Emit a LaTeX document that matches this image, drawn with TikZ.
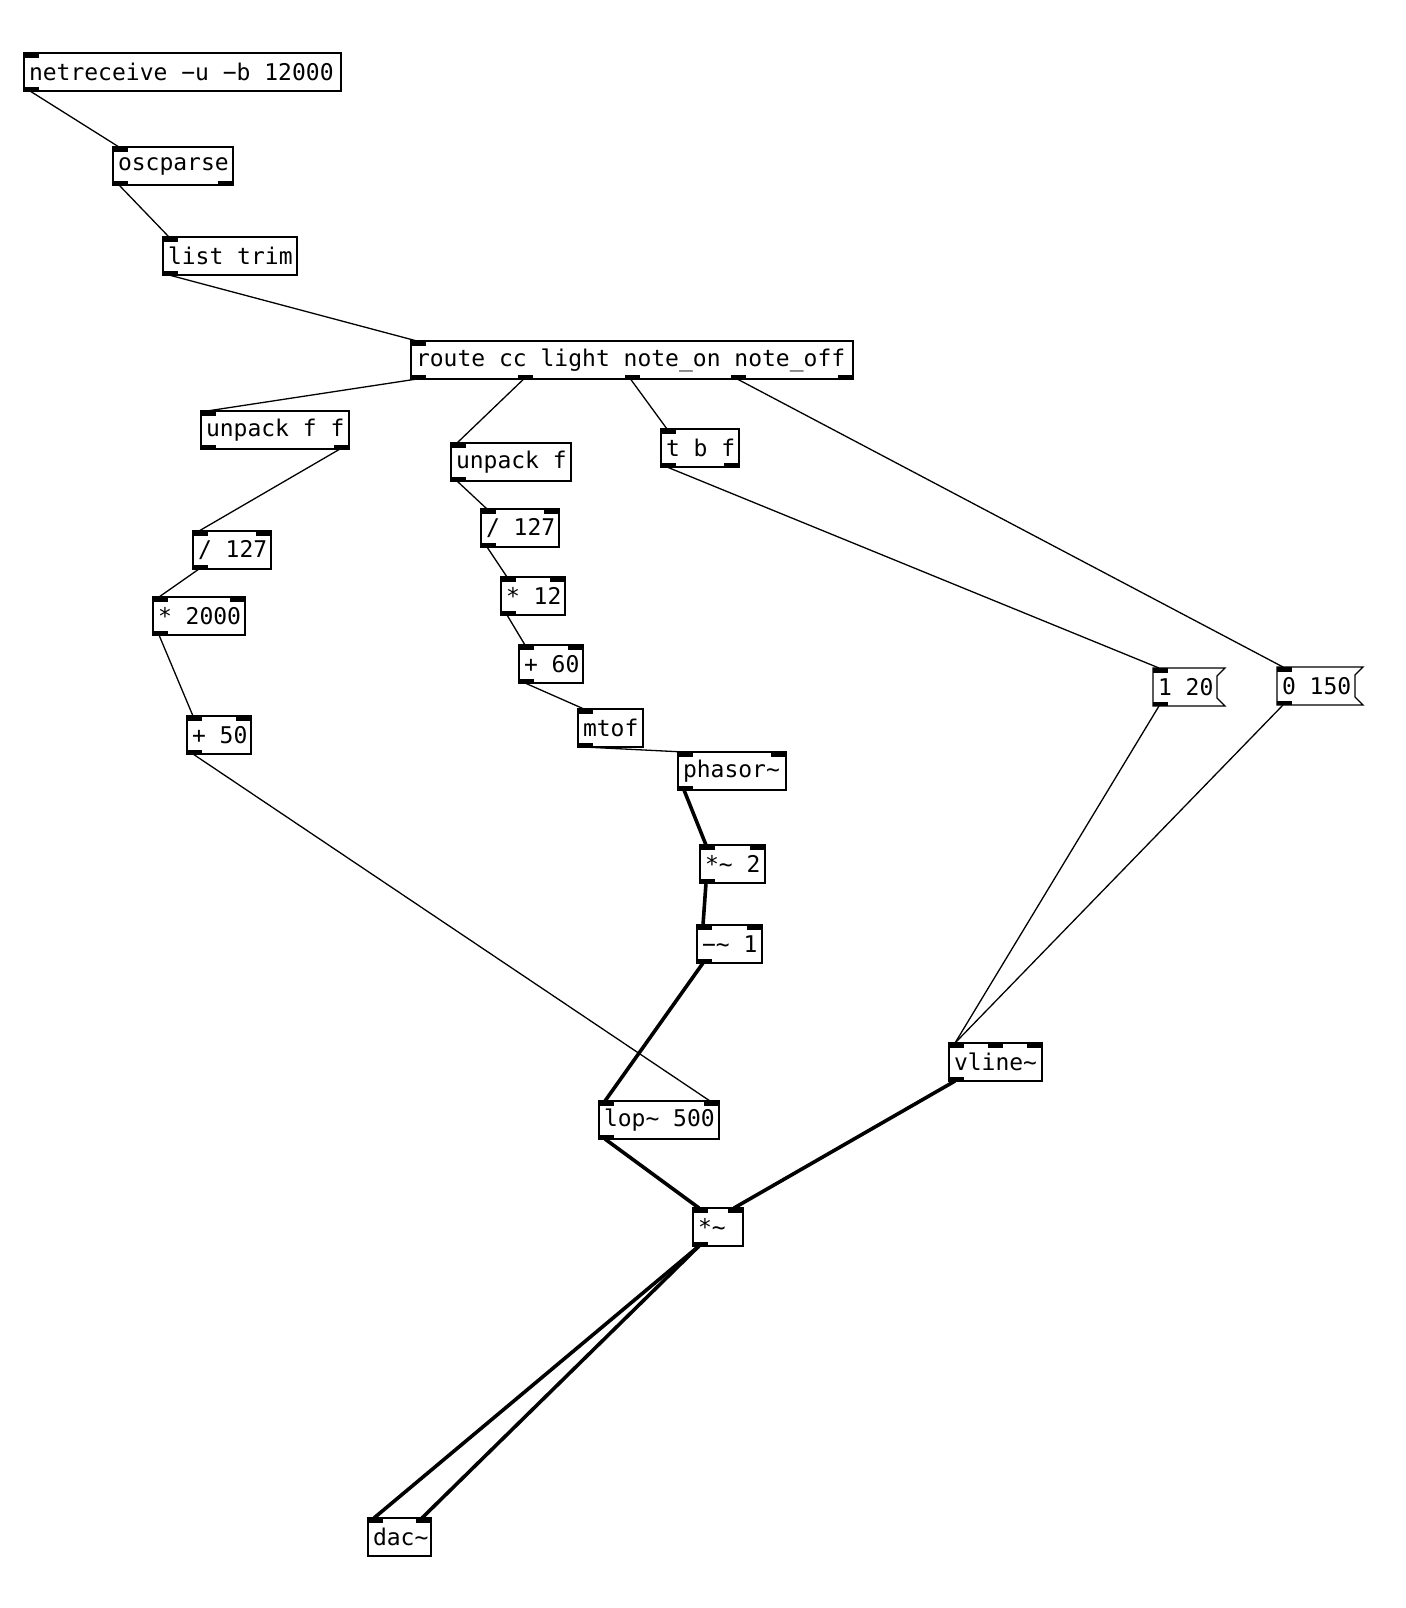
\documentclass[tikz,border=0pt]{standalone}
\usepackage{fontspec}
\newfontfamily\pdfont{DejaVu Sans Mono}
\newcommand{\pdfontsel}{\pdfont\fontsize{11.5}{13}\selectfont}
\newcommand{\pdsp}{\spaceskip=0.6021em plus 0pt minus 0pt\relax\xspaceskip=\spaceskip}
\tikzset{
  pdbox/.style={draw, line width=0.65pt, anchor=north west, inner xsep=2.5pt, inner ysep=0pt,
    outer sep=0pt, font=\pdfontsel},
  pdmsgtext/.style={pdbox, draw=none},
  ctl/.style={line width=0.65pt},
  sig/.style={line width=1.8pt},
  iolet/.style={fill=black}
}
% iolets: name, x1, y1, x2, y2, #inlets, #outlets
\newcommand{\pdiolets}[7]{%
  \ifnum#6>0
  \foreach \k in {1,...,#6}{%
    \pgfmathsetmacro\xx{#2+(\k-1)*(#4-#2-15)/max(#6-1,1)}%
    \fill[iolet] (\xx,#3) rectangle ++(15,4.5);
    \coordinate (#1-i\k) at (\xx+6,#3);
  }%
  \fi
  \ifnum#7>0
  \foreach \k in {1,...,#7}{%
    \pgfmathsetmacro\xx{#2+(\k-1)*(#4-#2-15)/max(#7-1,1)}%
    \fill[iolet] (\xx,#5) rectangle ++(15,-4.5);
    \coordinate (#1-o\k) at (\xx+6,#5);
  }%
  \fi
}
% object box: name, x1, y1, x2, y2, text, #in, #out
\newcommand{\pdobj}[8]{%
  \pgfmathsetmacro\pdw{(#4-#2)*0.5-5}%
  \pgfmathsetmacro\pdh{(#5-#3)*0.5}%
  \node[pdbox, minimum height=\pdh pt] (#1) at (#2,#3) {\makebox[\pdw pt][l]{\pdsp #6}};
  \pdiolets{#1}{#2}{#3}{#4}{#5}{#7}{#8}%
}
% message box: name, x1, y1, x2, y2, text
\newcommand{\pdmsg}[6]{%
  \pgfmathsetmacro\pdw{(#4-#2-8)*0.5-5}%
  \pgfmathsetmacro\pdh{(#5-#3)*0.5}%
  \node[pdmsgtext, minimum height=\pdh pt] (#1) at (#2,#3) {\makebox[\pdw pt][l]{\pdsp #6}};
  \draw[line width=0.65pt] (#2,#3) -- (#4,#3) -- (#4-8,#3+8) -- (#4-8,#5-8) -- (#4,#5) -- (#2,#5) -- cycle;
  \pdiolets{#1}{#2}{#3}{#4-8}{#5}{1}{1}%
}
\begin{document}
\begin{tikzpicture}[x=0.5pt,y=-0.5pt]
\useasboundingbox (0,0) rectangle (1406,1608);

\pdobj{nr}{24}{53}{341}{91}{netreceive −u −b 12000}{1}{1}
\pdobj{osc}{113}{147}{233}{185}{oscparse}{1}{2}
\pdobj{lt}{163}{237}{297}{275}{list trim}{1}{1}
\pdobj{route}{411}{341}{853}{379}{route cc light note\_on note\_off}{1}{5}
\pdobj{upff}{201}{411}{349}{449}{unpack f f}{1}{2}
\pdobj{upf}{451}{443}{571}{481}{unpack f}{1}{1}
\pdobj{tbf}{661}{429}{739}{467}{t b f}{1}{2}
\pdobj{diva}{193}{531}{271}{569}{/ 127}{2}{1}
\pdobj{mulk}{153}{597}{245}{635}{* 2000}{2}{1}
\pdobj{addf}{187}{716}{251}{754}{+ 50}{2}{1}
\pdobj{divb}{481}{509}{559}{547}{/ 127}{2}{1}
\pdobj{mult}{501}{577}{565}{615}{* 12}{2}{1}
\pdobj{adds}{519}{645}{583}{683}{+ 60}{2}{1}
\pdobj{mtof}{578}{709}{643}{747}{mtof}{1}{1}
\pdobj{phs}{678}{752}{786}{790}{phasor\textasciitilde}{2}{1}
\pdobj{msig}{700}{845}{765}{883}{*\textasciitilde{} 2}{2}{1}
\pdobj{ssig}{697}{925}{762}{963}{−\textasciitilde{} 1}{2}{1}
\pdobj{lop}{599}{1101}{719}{1139}{lop\textasciitilde{} 500}{2}{1}
\pdobj{vl}{949}{1043}{1042}{1081}{vline\textasciitilde}{3}{1}
\pdobj{mul}{693}{1208}{743}{1246}{*\textasciitilde}{2}{1}
\pdobj{dac}{368}{1518}{431}{1556}{dac\textasciitilde}{2}{0}
\pdmsg{ma}{1153}{668}{1225}{706}{1 20}
\pdmsg{mb}{1277}{667}{1363}{705}{0 150}

% control connections
\draw[ctl] (nr-o1) -- (osc-i1);
\draw[ctl] (osc-o1) -- (lt-i1);
\draw[ctl] (lt-o1) -- (route-i1);
\draw[ctl] (route-o1) -- (upff-i1);
\draw[ctl] (route-o2) -- (upf-i1);
\draw[ctl] (route-o3) -- (tbf-i1);
\draw[ctl] (route-o4) -- (mb-i1);
\draw[ctl] (upff-o2) -- (diva-i1);
\draw[ctl] (diva-o1) -- (mulk-i1);
\draw[ctl] (mulk-o1) -- (addf-i1);
\draw[ctl] (addf-o1) -- (lop-i2);
\draw[ctl] (upf-o1) -- (divb-i1);
\draw[ctl] (divb-o1) -- (mult-i1);
\draw[ctl] (mult-o1) -- (adds-i1);
\draw[ctl] (adds-o1) -- (mtof-i1);
\draw[ctl] (mtof-o1) -- (phs-i1);
\draw[ctl] (tbf-o1) -- (ma-i1);
\draw[ctl] (ma-o1) -- (vl-i1);
\draw[ctl] (mb-o1) -- (vl-i1);
% signal connections
\draw[sig] (phs-o1) -- (msig-i1);
\draw[sig] (msig-o1) -- (ssig-i1);
\draw[sig] (ssig-o1) -- (lop-i1);
\draw[sig] (lop-o1) -- (mul-i1);
\draw[sig] (vl-o1) -- (mul-i2);
\draw[sig] (mul-o1) -- (dac-i1);
\draw[sig] (mul-o1) -- (dac-i2);
\end{tikzpicture}
\end{document}
